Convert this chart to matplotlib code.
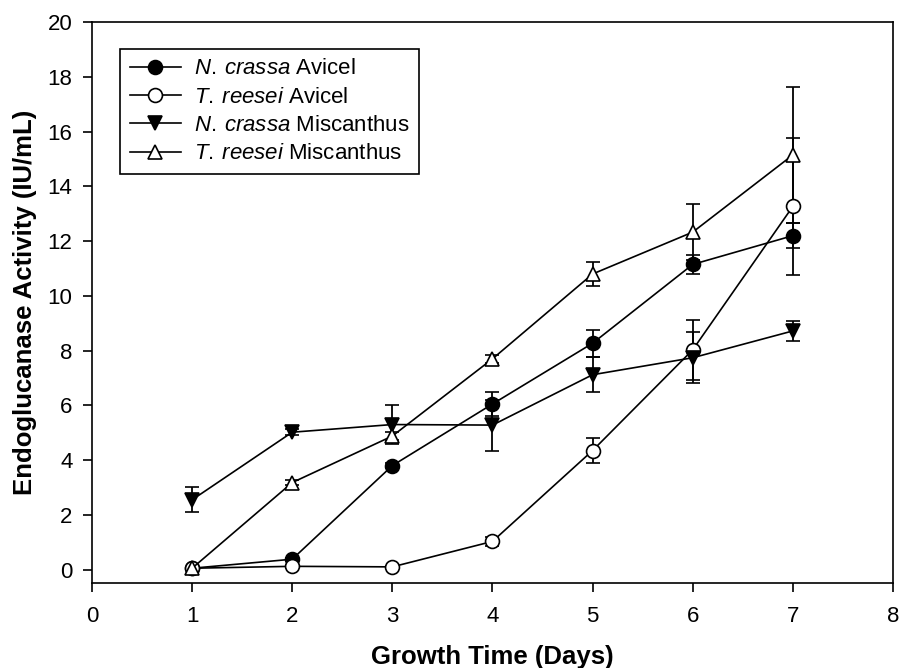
import matplotlib
matplotlib.use("Agg")
import matplotlib.pyplot as plt

plt.rcParams['font.family'] = ['Liberation Sans', 'DejaVu Sans']
plt.rcParams['mathtext.fontset'] = 'custom'
plt.rcParams['mathtext.it'] = 'Liberation Sans:italic'
plt.rcParams['mathtext.rm'] = 'Liberation Sans'

days = [1, 2, 3, 4, 5, 6, 7]

nc_avicel = [0.05, 0.38, 3.8, 6.05, 8.27, 11.15, 12.2]
nc_avicel_err = [0.05, 0.05, 0.1, 0.45, 0.5, 0.35, 0.45]

tr_avicel = [0.05, 0.12, 0.1, 1.03, 4.35, 8.03, 13.27]
tr_avicel_err = [0.05, 0.05, 0.05, 0.15, 0.45, 1.1, 2.5]

nc_misc = [2.55, 5.02, 5.3, 5.28, 7.12, 7.74, 8.72]
nc_misc_err = [0.45, 0.1, 0.7, 0.93, 0.63, 0.93, 0.36]

tr_misc = [0.05, 3.18, 4.88, 7.7, 10.8, 12.33, 15.15]
tr_misc_err = [0.05, 0.1, 0.15, 0.15, 0.45, 1.03, 2.5]

fig = plt.figure(figsize=(8.99, 6.68), dpi=100)
ax = fig.add_axes([0.1023, 0.1268, 0.891, 0.840])

series = [
    (nc_avicel, nc_avicel_err, 'o', 'black', 'N.', 'crassa', 'Avicel'),
    (tr_avicel, tr_avicel_err, 'o', 'white', 'T.', 'reesei', 'Avicel'),
    (nc_misc, nc_misc_err, 'v', 'black', 'N.', 'crassa', 'Miscanthus'),
    (tr_misc, tr_misc_err, '^', 'white', 'T.', 'reesei', 'Miscanthus'),
]

handles = []
labels = []
for vals, errs, mk, fc, genus, sp, sub in series:
    c = ax.errorbar(days, vals, yerr=errs, color='black', marker=mk, markersize=10,
                    markerfacecolor=fc, markeredgecolor='black', markeredgewidth=1.2,
                    linewidth=1.2, elinewidth=1.3, capsize=5, capthick=1.3)
    handles.append(c[0])
    labels.append(r'$\mathit{' + genus + r'}\:\mathit{' + sp + '}$ ' + sub)

ax.set_xlim(0, 8)
ax.set_ylim(-0.5, 20)
ax.set_xticks(range(0, 9))
ax.set_yticks(range(0, 21, 2))
ax.tick_params(direction='out', length=6.5, width=1.2, labelsize=16)
ax.tick_params(axis='x', pad=10)
ax.tick_params(axis='y', pad=7.5)
for s in ax.spines.values():
    s.set_linewidth(1.2)

ax.set_xlabel('Growth Time (Days)', fontsize=18.5, fontweight='bold', labelpad=13)
ax.set_ylabel('Endoglucanase Activity (IU/mL)', fontsize=18.5, fontweight='bold', labelpad=8)

leg = ax.legend(handles, labels, loc='upper left', bbox_to_anchor=(0.0355, 0.952),
                fontsize=16, frameon=True, fancybox=False, edgecolor='black',
                framealpha=1, handlelength=2.3, borderpad=0.42, labelspacing=0.33,
                handletextpad=0.6, borderaxespad=0)
leg.get_frame().set_linewidth(1.2)

fig.savefig('out.png', dpi=100)
